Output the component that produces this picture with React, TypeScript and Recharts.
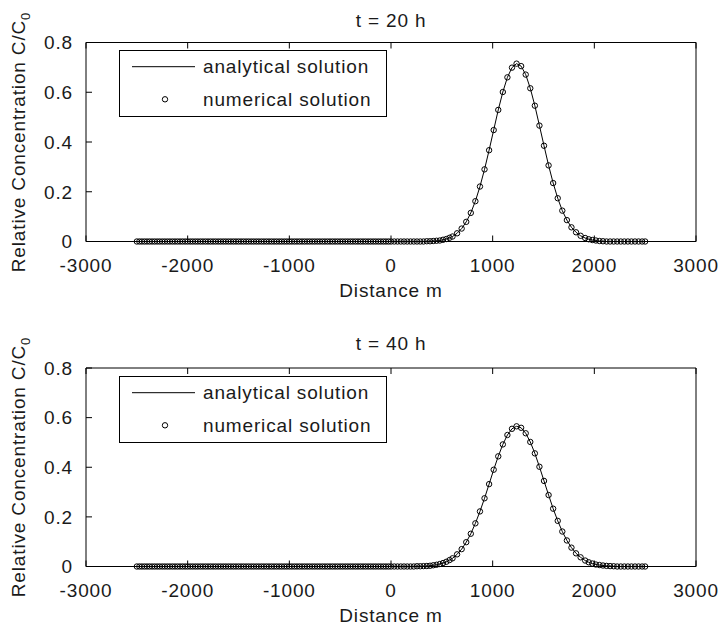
import React from 'react';
import { ComposedChart, Line, Scatter, XAxis, YAxis, Legend } from 'recharts';

const FONT = '"Liberation Sans", Arial, Helvetica, sans-serif';
const INK = '#1a1a1a';

// Distance (m) of the sample points
const distance = [
  -2500, -2475, -2450, -2425, -2400, -2375, -2350, -2325, -2300, -2275,
  -2250, -2225, -2200, -2175, -2150, -2125, -2100, -2075, -2050, -2025,
  -2000, -1975, -1950, -1925, -1900, -1875, -1850, -1825, -1800, -1775,
  -1750, -1725, -1700, -1675, -1650, -1625, -1600, -1575, -1550, -1525,
  -1500, -1475, -1450, -1425, -1400, -1375, -1350, -1325, -1300, -1275,
  -1250, -1225, -1200, -1175, -1150, -1125, -1100, -1075, -1050, -1025,
  -1000, -975, -950, -925, -900, -875, -850, -825, -800, -775,
  -750, -725, -700, -675, -650, -625, -600, -575, -550, -525,
  -500, -475, -450, -425, -400, -375, -350, -325, -300, -275,
  -250, -225, -200, -175, -150, -125, -100, -75, -50, -25,
  0,
  32, 64, 96, 128, 160, 192, 224, 256, 288, 320,
  352, 384, 416, 448, 480, 512, 544, 576,
  605, 650, 695, 740, 785, 830, 875, 920, 965, 1010,
  1055, 1100, 1145, 1190, 1235, 1280, 1325, 1370, 1415, 1460,
  1505, 1550, 1595, 1640, 1685, 1730, 1775, 1820, 1865, 1910,
  1945, 1980, 2015, 2050, 2085, 2120, 2155, 2190, 2225, 2260,
  2295, 2330, 2365, 2400, 2435, 2470, 2500,
];

// Relative concentration C/C0 at t = 20 h
const concT20 = [
  0, 0, 0, 0, 0, 0, 0, 0, 0, 0,
  0, 0, 0, 0, 0, 0, 0, 0, 0, 0,
  0, 0, 0, 0, 0, 0, 0, 0, 0, 0,
  0, 0, 0, 0, 0, 0, 0, 0, 0, 0,
  0, 0, 0, 0, 0, 0, 0, 0, 0, 0,
  0, 0, 0, 0, 0, 0, 0, 0, 0, 0,
  0, 0, 0, 0, 0, 0, 0, 0, 0, 0,
  0, 0, 0, 0, 0, 0, 0, 0, 0, 0,
  0, 0, 0, 0, 0, 0, 0, 0, 0, 0,
  0, 0, 0, 0, 0, 0, 0, 0, 0, 0,
  0,
  0, 0, 0, 0, 0, 0, 0, 0, 0, 0,
  0.001, 0.001, 0.002, 0.003, 0.004, 0.007, 0.010, 0.015,
  0.020, 0.033, 0.052, 0.079, 0.115, 0.162, 0.221, 0.290, 0.367, 0.448,
  0.529, 0.601, 0.660, 0.699, 0.715, 0.705, 0.671, 0.616, 0.546, 0.466,
  0.385, 0.306, 0.235, 0.174, 0.124, 0.086, 0.057, 0.037, 0.023, 0.014,
  0.009, 0.006, 0.004, 0.002, 0.001, 0, 0, 0, 0, 0,
  0, 0, 0, 0, 0, 0, 0,
];

// Relative concentration C/C0 at t = 40 h
const concT40 = [
  0, 0, 0, 0, 0, 0, 0, 0, 0, 0,
  0, 0, 0, 0, 0, 0, 0, 0, 0, 0,
  0, 0, 0, 0, 0, 0, 0, 0, 0, 0,
  0, 0, 0, 0, 0, 0, 0, 0, 0, 0,
  0, 0, 0, 0, 0, 0, 0, 0, 0, 0,
  0, 0, 0, 0, 0, 0, 0, 0, 0, 0,
  0, 0, 0, 0, 0, 0, 0, 0, 0, 0,
  0, 0, 0, 0, 0, 0, 0, 0, 0, 0,
  0, 0, 0, 0, 0, 0, 0, 0, 0, 0,
  0, 0, 0, 0, 0, 0, 0, 0, 0, 0,
  0,
  0, 0, 0, 0, 0, 0, 0, 0.001, 0.001, 0.0015,
  0.002, 0.003, 0.005, 0.007, 0.010, 0.014, 0.019, 0.026,
  0.033, 0.049, 0.070, 0.098, 0.132, 0.174, 0.222, 0.275, 0.332, 0.390,
  0.444, 0.492, 0.530, 0.555, 0.565, 0.559, 0.537, 0.502, 0.456, 0.402,
  0.345, 0.288, 0.233, 0.184, 0.141, 0.105, 0.076, 0.053, 0.037, 0.024,
  0.017, 0.012, 0.008, 0.006, 0.004, 0.0025, 0.0016, 0.001, 0, 0,
  0, 0, 0, 0, 0, 0, 0,
];

const xTicks = [-3000, -2000, -1000, 0, 1000, 2000, 3000];
const yTicks = [0, 0.2, 0.4, 0.6, 0.8];
const yTickLabels = ['0', '0.2', '0.4', '0.6', '0.8'];
const panelTitles = ['t = 20 h', 't = 40 h'];
const seriesNames = ['analytical solution', 'numerical solution'];
const xLabel = 'Distance m';
const yLabelMain = 'Relative Concentration C/C';
const yLabelSub = '0';

const W = 721;
const H = 314;
const TICK = 6;
const MARK_R = 2.7;
const textStyle = { fontFamily: FONT, fontSize: 19, fill: INK, letterSpacing: 0.85 } as const;

const BottomTick = (p: any) => (
  <g>
    <line x1={p.x} x2={p.x} y1={p.y} y2={p.y - TICK} stroke="#000" strokeWidth={1} />
    <text x={p.x} y={p.y + 30} textAnchor="middle" style={textStyle}>
      {String(p.payload.value)}
    </text>
  </g>
);
const TopTick = (p: any) => (
  <line x1={p.x} x2={p.x} y1={p.y} y2={p.y + TICK} stroke="#000" strokeWidth={1} />
);
const LeftTick = (p: any) => {
  const i = yTicks.indexOf(p.payload.value);
  return (
    <g>
      <line x1={p.x} x2={p.x + TICK} y1={p.y} y2={p.y} stroke="#000" strokeWidth={1} />
      <text x={p.x - 13} y={p.y + 6.8} textAnchor="end" style={textStyle}>
        {i >= 0 ? yTickLabels[i] : String(p.payload.value)}
      </text>
    </g>
  );
};
const RightTick = (p: any) => (
  <line x1={p.x} x2={p.x - TICK} y1={p.y} y2={p.y} stroke="#000" strokeWidth={1} />
);

const Circle = (p: any) =>
  p.cx == null || p.cy == null ? null : (
    <circle cx={p.cx} cy={p.cy} r={MARK_R} fill="none" stroke="#000" strokeWidth={1} />
  );

const LegendBox = () => (
  <svg width={269} height={68} style={{ display: 'block' }}>
    <rect x={0.5} y={0.5} width={267} height={66} fill="#fff" stroke="#000" strokeWidth={1} />
    <line x1={13} x2={76} y1={16.7} y2={16.7} stroke="#000" strokeWidth={1} />
    <text x={84} y={23.4} style={textStyle}>{seriesNames[0]}</text>
    <circle cx={46} cy={49.3} r={MARK_R} fill="none" stroke="#000" strokeWidth={1} />
    <text x={84} y={56} style={textStyle}>{seriesNames[1]}</text>
  </svg>
);

type PanelProps = {
  top: number;
  title: string;
  values: number[];
  mTop: number;
  mBottom: number;
  titleY: number;
  xLabelY: number;
  yLabelY: number;
};

const axisLine = { stroke: '#000', strokeWidth: 1 };

const Panel = ({ top, title, values, mTop, mBottom, titleY, xLabelY, yLabelY }: PanelProps) => {
  const rows = distance.map((x, i) => ({ x, c: values[i] }));
  return (
    <div style={{ position: 'absolute', left: 0, top, width: W, height: H }}>
      <ComposedChart
        width={W}
        height={H}
        data={rows}
        margin={{ top: mTop - 1, right: 24, bottom: mBottom - 1, left: 85 }}
      >
        <XAxis
          xAxisId="b"
          dataKey="x"
          type="number"
          domain={[-3000, 3000]}
          ticks={xTicks}
          interval={0}
          height={1}
          tickSize={0}
          tickMargin={0}
          tickLine={false}
          axisLine={axisLine}
          tick={BottomTick}
        />
        <XAxis
          xAxisId="t"
          orientation="top"
          dataKey="x"
          type="number"
          domain={[-3000, 3000]}
          ticks={xTicks}
          interval={0}
          height={1}
          tickSize={0}
          tickMargin={0}
          tickLine={false}
          axisLine={axisLine}
          tick={TopTick}
        />
        <YAxis
          yAxisId="l"
          type="number"
          domain={[0, 0.8]}
          ticks={yTicks}
          interval={0}
          width={1}
          tickSize={0}
          tickMargin={0}
          tickLine={false}
          axisLine={axisLine}
          tick={LeftTick}
        />
        <YAxis
          yAxisId="r"
          orientation="right"
          type="number"
          domain={[0, 0.8]}
          ticks={yTicks}
          interval={0}
          width={1}
          tickSize={0}
          tickMargin={0}
          tickLine={false}
          axisLine={axisLine}
          tick={RightTick}
        />
        <Line
          xAxisId="b"
          yAxisId="l"
          type="linear"
          dataKey="c"
          name={seriesNames[0]}
          stroke="#000"
          strokeWidth={1}
          dot={false}
          activeDot={false}
          isAnimationActive={false}
        />
        <Scatter
          xAxisId="b"
          yAxisId="l"
          dataKey="c"
          name={seriesNames[1]}
          shape={Circle}
          isAnimationActive={false}
        />
        <Legend
          layout="horizontal"
          verticalAlign="middle"
          align="center"
          content={LegendBox}
          wrapperStyle={{ position: 'absolute', left: 119, top: 50, width: 269, height: 68 }}
        />
      </ComposedChart>
      <svg
        width={W}
        height={H}
        style={{ position: 'absolute', left: 0, top: 0, pointerEvents: 'none', overflow: 'visible' }}
      >
        <text x={391} y={titleY} textAnchor="middle" style={textStyle}>{title}</text>
        <text x={391} y={xLabelY} textAnchor="middle" style={textStyle}>{xLabel}</text>
        <text
          x={0}
          y={0}
          textAnchor="middle"
          transform={`translate(24.5 ${yLabelY}) rotate(-90)`}
          style={textStyle}
        >
          {yLabelMain}
          <tspan dy={5} style={{ fontSize: 13 }}>{yLabelSub}</tspan>
        </text>
      </svg>
    </div>
  );
};

export default function App() {
  return (
    <div style={{ position: 'absolute', left: 0, top: 0, width: W, height: 628, background: '#fff' }}>
      <Panel top={0} title={panelTitles[0]} values={concT20} mTop={42.5} mBottom={72.5} titleY={27} xLabelY={297} yLabelY={142} />
      <Panel top={326} title={panelTitles[1]} values={concT40} mTop={42} mBottom={73.5} titleY={24} xLabelY={296} yLabelY={141} />
    </div>
  );
}
